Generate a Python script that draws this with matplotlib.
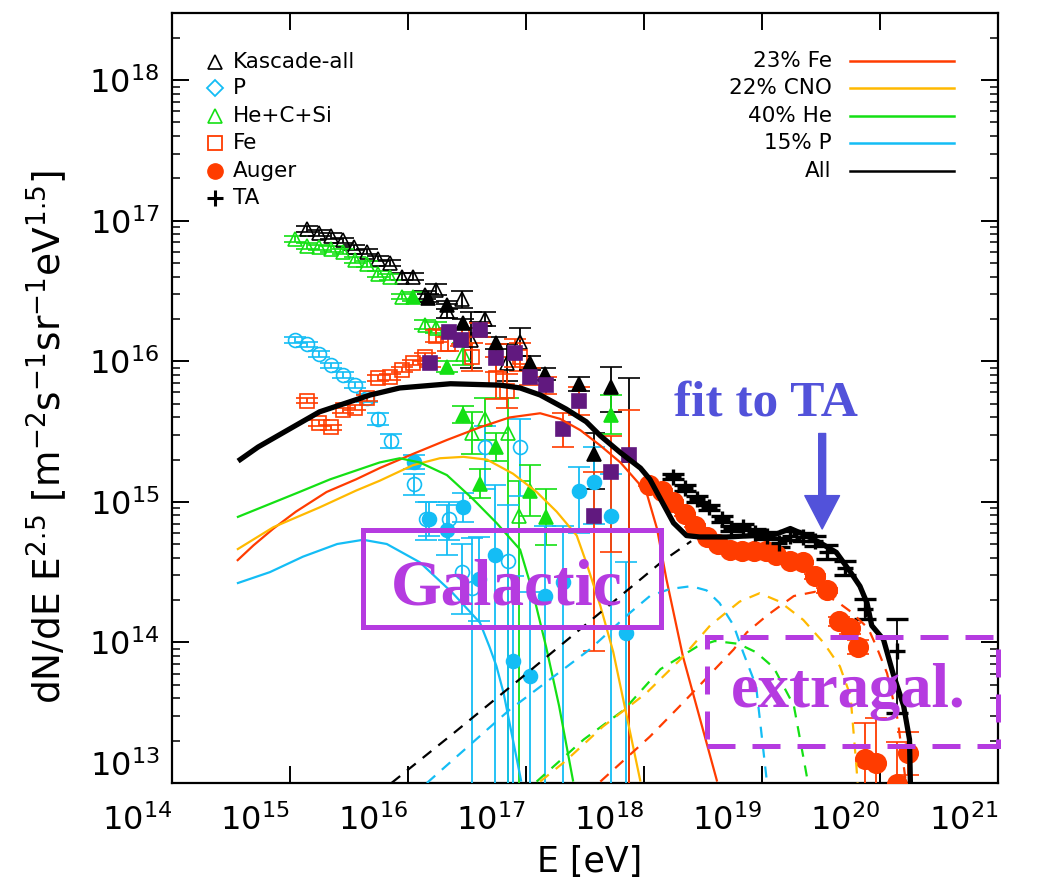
import numpy as np
import matplotlib
matplotlib.use("Agg")
import matplotlib.pyplot as plt
from matplotlib.patches import Rectangle, FancyArrowPatch
from matplotlib.ticker import NullLocator, LogLocator, FixedLocator

plt.rcParams['font.family'] = ['DejaVu Sans']
plt.rcParams['mathtext.fontset'] = 'dejavusans'

# ---------------- measured spectra: log10(E/eV), log10(flux), errors in dex ----------------
# KASCADE all-particle (open black triangles)
kas_all_lgE = [15.14, 15.25, 15.35, 15.45, 15.54, 15.65, 15.75, 15.85, 15.95, 16.04, 16.14, 16.24,
               16.33, 16.46, 16.53, 16.65, 16.84, 16.95]
kas_all_lgF = [16.94, 16.91, 16.89, 16.86, 16.81, 16.78, 16.73, 16.70, 16.60, 16.60, 16.47, 16.51,
               16.36, 16.44, 16.15, 16.30, 15.99, 16.14]
kas_all_err = [0.02, 0.02, 0.02, 0.02, 0.02, 0.02, 0.02, 0.02, 0.025, 0.025, 0.03, 0.04,
               0.05, 0.06, 0.20, 0.05, 0.13, 0.10]

# KASCADE-Grande all-particle (filled black triangles)
gr_all_lgE = [16.17, 16.33, 16.47, 16.61, 16.75, 17.03, 17.16, 17.45, 17.58, 17.72, 17.87]
gr_all_lgF = [16.45, 16.40, 16.27, 16.24, 16.13, 15.99, 15.91, 15.84, 15.34, 15.82, 15.33]
gr_all_lo = [0.03, 0.03, 0.03, 0.04, 0.04, 0.05, 0.04, 0.05, 0.25, 0.18, 3.0]
gr_all_hi = [0.03, 0.03, 0.03, 0.04, 0.04, 0.05, 0.04, 0.05, 0.15, 0.14, 0.55]

# KASCADE He+C+Si (open green triangles)
kas_med_lgE = [15.04, 15.14, 15.25, 15.35, 15.45, 15.55, 15.65, 15.75, 15.85, 15.95, 16.14, 16.24,
               16.47, 16.54, 16.65, 16.85, 16.94]
kas_med_lgF = [16.87, 16.82, 16.81, 16.80, 16.78, 16.72, 16.69, 16.62, 16.60, 16.46, 16.26, 16.24,
               16.05, 15.49, 15.59, 15.49, 14.90]
kas_med_lo = [0.02] * 10 + [0.03, 0.04, 0.08, 0.15, 0.15, 3.0, 3.0]
kas_med_hi = [0.02] * 10 + [0.03, 0.04, 0.08, 0.15, 0.15, 0.25, 0.25]

# KASCADE-Grande light/medium (filled green triangles)
gr_med_lgE = [16.04, 16.33, 16.47, 16.61, 16.75, 17.03, 17.17, 17.72]
gr_med_lgF = [16.46, 15.96, 15.62, 15.13, 15.39, 15.08, 14.89, 15.62]
gr_med_err = [0.03, 0.04, 0.06, 0.10, 0.10, 0.18, 0.20, 0.14]

# KASCADE protons (open blue circles)
kas_p_lgE = [15.04, 15.14, 15.25, 15.35, 15.45, 15.55, 15.65, 15.75, 15.86, 16.05, 16.15, 16.35,
             16.46, 16.54, 16.65, 16.85, 16.95]
kas_p_lgF = [16.15, 16.12, 16.05, 15.97, 15.90, 15.83, 15.74, 15.59, 15.43, 15.13, 14.88, 14.88,
             14.50, 14.39, 15.39, 14.58, 15.39]
kas_p_lo = [0.02] * 6 + [0.03, 0.04, 0.05, 0.08, 0.15, 0.15, 0.30, 3.0, 0.30, 3.0, 0.35]
kas_p_hi = [0.02] * 6 + [0.03, 0.04, 0.05, 0.07, 0.12, 0.12, 0.20, 0.35, 0.15, 0.40, 0.20]

# KASCADE-Grande light (filled blue circles)
gr_p_lgE = [16.05, 16.18, 16.33, 16.47, 16.60, 16.74, 16.89, 17.03, 17.16, 17.31, 17.45, 17.58,
            17.72, 17.85]
gr_p_lgF = [15.28, 14.88, 14.80, 14.96, 14.45, 14.62, 13.87, 13.76, 14.33, 14.43, 15.08, 15.14,
            14.90, 14.07]
gr_p_lo = [0.05, 0.12, 0.18, 0.10, 0.30, 3.0, 3.0, 3.0, 3.0, 3.0, 0.30, 0.30, 3.0, 3.0]
gr_p_hi = [0.05, 0.12, 0.18, 0.10, 0.30, 0.50, 0.60, 0.60, 0.50, 0.40, 0.17, 0.25, 0.30, 0.50]

# KASCADE iron (open red squares)
kas_fe_lgE = [15.14, 15.25, 15.35, 15.45, 15.55, 15.65, 15.75, 15.85, 15.95, 16.04, 16.14, 16.24,
              16.34, 16.46, 16.54, 16.75, 16.84, 16.95]
kas_fe_lgF = [15.72, 15.56, 15.53, 15.65, 15.67, 15.74, 15.88, 15.89, 15.94, 15.99, 16.03, 16.18,
              16.12, 16.18, 16.03, 15.88, 15.79, 16.03]
kas_fe_err = [0.02] * 10 + [0.03, 0.04, 0.05, 0.06, 0.10, 0.15, 0.12, 0.10]

# KASCADE-Grande heavy (filled purple squares)
gr_fe_lgE = [16.19, 16.35, 16.45, 16.61, 16.75, 16.91, 17.03, 17.17, 17.31, 17.45, 17.58, 17.72, 17.87]
gr_fe_lgF = [15.99, 16.21, 16.15, 16.22, 16.02, 16.06, 15.89, 15.83, 15.52, 15.72, 14.90, 15.21, 15.33]
gr_fe_lo = [0.03, 0.03, 0.04, 0.05, 0.10, 0.10, 0.06, 0.06, 0.13, 0.10, 0.96, 0.57, 3.0]
gr_fe_hi = [0.03, 0.03, 0.04, 0.05, 0.10, 0.10, 0.06, 0.06, 0.11, 0.10, 0.31, 0.26, 0.32]

# Pierre Auger Observatory
auger_lgE = [18.04, 18.15, 18.25, 18.35, 18.43, 18.53, 18.63, 18.73, 18.83, 18.93, 19.03, 19.12,
             19.24, 19.35, 19.45, 19.55, 19.65, 19.75, 19.81, 19.87, 19.97, 20.14, 20.24]
auger_lgF = [15.12, 15.08, 15.00, 14.91, 14.83, 14.75, 14.70, 14.66, 14.65, 14.65, 14.65, 14.62,
             14.58, 14.57, 14.47, 14.37, 14.15, 14.10, 13.97, 13.17, 13.14, 12.99, 13.21]
auger_lo = [0.01] * 14 + [0.02, 0.02, 0.03, 0.04, 0.05, 3.0, 3.0, 3.0, 0.15]
auger_hi = [0.01] * 14 + [0.02, 0.02, 0.03, 0.04, 0.05, 0.26, 0.32, 0.30, 0.15]

# Telescope Array
ta_lgE = [18.25, 18.35, 18.45, 18.55, 18.66, 18.74, 18.84, 18.94, 19.04, 19.14, 19.24, 19.35,
          19.45, 19.55, 19.70, 19.87, 20.14]
ta_lgF = [15.18, 15.10, 15.02, 14.96, 14.88, 14.81, 14.82, 14.78, 14.76, 14.71, 14.76, 14.75,
          14.72, 14.64, 14.53, 14.24, 13.94]
ta_lo = [0.02] * 7 + [0.025, 0.025, 0.03, 0.03, 0.03, 0.035, 0.05, 0.05, 0.07, 0.44]
ta_hi = [0.02] * 7 + [0.025, 0.025, 0.03, 0.03, 0.03, 0.035, 0.05, 0.05, 0.07, 0.23]

# ---------------- model: Galactic components (solid) ----------------
gal_fe_lgE = [14.55, 14.69, 14.86, 15.05, 15.31, 15.56, 15.76, 16.04, 16.33, 16.61, 16.86, 17.12,
              17.29, 17.46, 17.63, 17.80, 18.02, 18.11, 18.19, 18.33, 18.62]
gal_fe_lgF = [14.58, 14.69, 14.81, 14.93, 15.07, 15.16, 15.24, 15.34, 15.44, 15.53, 15.60, 15.63,
              15.59, 15.51, 15.40, 15.28, 15.07, 14.81, 14.45, 13.90, 13.01]
gal_cno_lgE = [14.55, 14.86, 15.25, 15.56, 15.76, 16.04, 16.27, 16.47, 16.67, 16.89, 17.09, 17.26,
               17.43, 17.51, 17.63, 17.74, 17.83, 17.97]
gal_cno_lgF = [14.66, 14.82, 14.96, 15.08, 15.15, 15.26, 15.31, 15.32, 15.30, 15.20, 15.07, 14.93,
               14.76, 14.57, 14.26, 13.93, 13.57, 13.01]
gal_he_lgE = [14.55, 15.08, 15.34, 15.76, 15.93, 16.10, 16.33, 16.55, 16.75, 16.95, 17.06, 17.17,
              17.28, 17.40]
gal_he_lgF = [14.89, 15.07, 15.16, 15.28, 15.31, 15.28, 15.19, 15.02, 14.85, 14.66, 14.35, 13.97,
              13.55, 13.01]
gal_p_lgE = [14.55, 14.83, 15.11, 15.40, 15.62, 15.82, 16.10, 16.38, 16.61, 16.69, 16.75, 16.81, 16.96]
gal_p_lgF = [14.42, 14.50, 14.61, 14.70, 14.73, 14.70, 14.57, 14.35, 14.14, 13.97, 13.83, 13.64, 13.01]

# total flux (Galactic + extragalactic)
all_lgE = [14.56, 14.73, 15.00, 15.25, 15.68, 15.93, 16.36, 16.78, 16.95, 17.12, 17.34, 17.51,
           17.63, 17.80, 17.97, 18.05, 18.14, 18.25, 18.36, 18.47, 18.70, 18.93, 19.12, 19.24,
           19.35, 19.49, 19.63, 19.75, 19.83, 19.89, 19.93, 20.03, 20.11, 20.20, 20.25, 20.26]
all_lgF = [15.29, 15.39, 15.52, 15.64, 15.76, 15.81, 15.84, 15.83, 15.81, 15.76, 15.66, 15.57,
           15.47, 15.35, 15.24, 15.16, 15.02, 14.85, 14.76, 14.75, 14.75, 14.76, 14.77, 14.81,
           14.77, 14.71, 14.64, 14.50, 14.40, 14.28, 14.12, 14.02, 13.78, 13.55, 13.31, 12.90]

# ---------------- model: extragalactic components (dashed) ----------------
eg_tot_lgE = [15.86, 16.38, 16.92, 18.16, 18.40]
eg_tot_lgF = [13.00, 13.35, 13.72, 14.58, 14.72]
eg_p_lgE = [16.16, 16.86, 17.54, 17.88, 18.05, 18.22, 18.40, 18.53, 18.64, 18.76, 18.84, 18.95, 19.04]
eg_p_lgF = [13.00, 13.52, 13.95, 14.21, 14.33, 14.38, 14.40, 14.37, 14.28, 14.12, 13.93, 13.69, 13.02]
eg_he_lgE = [17.09, 17.49, 17.83, 18.14, 18.45, 18.60, 18.80, 18.95, 19.10, 19.27, 19.36, 19.39]
eg_he_lgF = [13.01, 13.31, 13.52, 13.81, 13.97, 14.01, 13.99, 13.93, 13.82, 13.55, 13.14, 13.00]
eg_cno_lgE = [17.12, 17.34, 17.65, 18.02, 18.31, 18.56, 18.81, 18.98, 19.15, 19.35, 19.52, 19.66,
              19.75, 19.80, 19.81]
eg_cno_lgF = [13.01, 13.16, 13.40, 13.64, 13.88, 14.12, 14.29, 14.35, 14.29, 14.16, 14.00, 13.83,
              13.62, 13.12, 13.00]
eg_fe_lgE = [17.63, 18.05, 18.33, 18.76, 18.87, 19.04, 19.27, 19.45, 19.62, 19.75, 19.90, 19.97,
             20.06, 20.15, 20.22]
eg_fe_lgF = [13.01, 13.33, 13.57, 13.95, 14.07, 14.19, 14.33, 14.36, 14.30, 14.22, 14.10, 13.97,
             13.78, 13.45, 13.00]

legend_points = ['Kascade-all', 'P', 'He+C+Si', 'Fe', 'Auger', 'TA']
legend_lines = ['23% Fe', '22% CNO', '40% He', '15% P', 'All']

# annotation regions (log10 E, log10 flux)
gal_box = (15.62, 18.14, 14.107, 14.80)
eg_box = (18.53, 21.0, 13.26, 14.04)

C_RED = '#ff3c00'
C_ORANGE = '#ffb900'
C_GREEN = '#14e014'
C_BLUE = '#14bdf5'
C_PURPLE = '#61197f'
C_ANNOT = '#b53be0'
C_ARROW = '#5252da'

fig = plt.figure(figsize=(10.37, 8.89), dpi=100)
ax = fig.add_axes([0.16586, 0.11924, 0.79653, 0.86614])
ax.set_xscale('log')
ax.set_yscale('log')
ax.set_xlim(1e14, 1e21)
ax.set_ylim(1e13, 3e18)


def to_linear(lgE, lgF, lo, hi):
    E = 10.0 ** np.asarray(lgE, float)
    F = 10.0 ** np.asarray(lgF, float)
    lo = np.broadcast_to(np.asarray(lo, float), F.shape)
    hi = np.broadcast_to(np.asarray(hi, float), F.shape)
    return E, F, np.vstack([F * (1.0 - 10.0 ** (-lo)), F * (10.0 ** hi - 1.0)])


def points(lgE, lgF, lo, hi, marker, color, filled, ms, ecolor=None, mew=1.2, z=3):
    E, F, yerr = to_linear(lgE, lgF, lo, hi)
    ax.errorbar(E, F, yerr=yerr, fmt=marker, ms=ms, mfc=color if filled else 'none',
                mec=color, mew=mew, ecolor=ecolor or color, elinewidth=1.3,
                capsize=8, capthick=1.3, zorder=z)


points(kas_all_lgE, kas_all_lgF, kas_all_err, kas_all_err, '^', 'black', False, 10.5)
points(kas_med_lgE, kas_med_lgF, kas_med_lo, kas_med_hi, '^', C_GREEN, False, 10.5)
points(kas_p_lgE, kas_p_lgF, kas_p_lo, kas_p_hi, 'o', C_BLUE, False, 10)
points(kas_fe_lgE, kas_fe_lgF, kas_fe_err, kas_fe_err, 's', C_RED, False, 9.5)
points(gr_all_lgE, gr_all_lgF, gr_all_lo, gr_all_hi, '^', 'black', True, 10.5)
points(gr_med_lgE, gr_med_lgF, gr_med_err, gr_med_err, '^', C_GREEN, True, 10.5)
points(gr_p_lgE, gr_p_lgF, gr_p_lo, gr_p_hi, 'o', C_BLUE, True, 10)
points(gr_fe_lgE, gr_fe_lgF, gr_fe_lo, gr_fe_hi, 's', C_PURPLE, True, 10.5, ecolor=C_RED)
points(auger_lgE, auger_lgF, auger_lo, auger_hi, 'o', C_RED, True, 14)
points(ta_lgE, ta_lgF, ta_lo, ta_hi, '+', 'black', True, 12, mew=2.4)


def curve(lgE, lgF, color, lw=1.6, dashed=False, z=5):
    ln, = ax.plot(10.0 ** np.asarray(lgE), 10.0 ** np.asarray(lgF), color=color, lw=lw, zorder=z,
                  solid_capstyle='butt')
    if dashed:
        ln.set_dashes((5, 4))


curve(gal_fe_lgE, gal_fe_lgF, C_RED)
curve(gal_cno_lgE, gal_cno_lgF, C_ORANGE)
curve(gal_he_lgE, gal_he_lgF, C_GREEN)
curve(gal_p_lgE, gal_p_lgF, C_BLUE)
curve(eg_tot_lgE, eg_tot_lgF, 'black', dashed=True)
curve(eg_p_lgE, eg_p_lgF, C_BLUE, dashed=True)
curve(eg_he_lgE, eg_he_lgF, C_GREEN, dashed=True)
curve(eg_cno_lgE, eg_cno_lgF, C_ORANGE, dashed=True)
curve(eg_fe_lgE, eg_fe_lgF, C_RED, dashed=True)
curve(all_lgE, all_lgF, 'black', lw=3.8, z=6)

# Galactic / extragalactic labels
x0, x1, y0, y1 = gal_box
ax.add_patch(Rectangle((10 ** x0, 10 ** y0), 10 ** x1 - 10 ** x0, 10 ** y1 - 10 ** y0,
                       fill=False, ec=C_ANNOT, lw=3.6, zorder=8))
x0, x1, y0, y1 = eg_box
ax.add_patch(Rectangle((10 ** x0, 10 ** y0), 10 ** x1 - 10 ** x0, 10 ** y1 - 10 ** y0,
                       fill=False, ec=C_ANNOT, lw=3.6, ls=(0, (5.6, 3.4)), zorder=8,
                       clip_on=False))
ax.text(10 ** 16.84, 10 ** 14.271, 'Galactic', family='Liberation Serif', weight='bold',
        fontsize=47, color=C_ANNOT, ha='center', va='baseline', zorder=9)
ax.text(10 ** 19.73, 10 ** 13.54, 'extragal.', family='Liberation Serif', weight='bold',
        fontsize=45, color=C_ANNOT, ha='center', va='baseline', zorder=9)
ax.text(10 ** 19.03, 10 ** 15.614, 'fit to TA', family='Liberation Serif', weight='bold',
        fontsize=37, color=C_ARROW, ha='center', va='baseline', zorder=9)
ax.add_patch(FancyArrowPatch((10 ** 19.51, 10 ** 15.486), (10 ** 19.51, 10 ** 14.807),
                             arrowstyle='simple,head_length=24,head_width=25,tail_width=5',
                             mutation_scale=1, color=C_ARROW, shrinkA=0, shrinkB=0, zorder=9))

# point legend (upper left)
leg_y = [0.9368, 0.9022, 0.8662, 0.8307, 0.7948, 0.7593]
leg_style = [dict(marker='^', mfc='none', mec='black', ms=10, mew=1.2),
             dict(marker='D', mfc='none', mec=C_BLUE, ms=8, mew=1.3),
             dict(marker='^', mfc='none', mec=C_GREEN, ms=10, mew=1.2),
             dict(marker='s', mfc='none', mec=C_RED, ms=9.5, mew=1.3),
             dict(marker='o', mfc=C_RED, mec=C_RED, ms=11),
             dict(marker='+', mec='black', ms=11, mew=2.2)]
for lab, fy, st in zip(legend_points, leg_y, leg_style):
    ax.plot([0.052], [fy], ls='none', transform=ax.transAxes, clip_on=False, zorder=10, **st)
    ax.text(0.0738, fy, lab, transform=ax.transAxes, fontsize=15.5, ha='left', va='center', zorder=10)

# model legend (upper right)
line_y = [0.9381, 0.9022, 0.8662, 0.8308, 0.7952]
line_c = [C_RED, C_ORANGE, C_GREEN, C_BLUE, 'black']
for lab, fy, c in zip(legend_lines, line_y, line_c):
    ax.plot([0.8208, 0.9467], [fy, fy], color=c, lw=1.8, transform=ax.transAxes, zorder=10)
    ax.text(0.7987, fy, lab, transform=ax.transAxes, fontsize=15.5, ha='right', va='center', zorder=10)

# axes styling
ax.xaxis.set_major_locator(FixedLocator([10.0 ** k for k in range(14, 22)]))
ax.xaxis.set_minor_locator(NullLocator())
ax.yaxis.set_major_locator(FixedLocator([10.0 ** k for k in range(13, 19)]))
ax.yaxis.set_minor_locator(LogLocator(base=10, subs=np.arange(2, 10), numticks=20))
ax.tick_params(which='both', direction='in', top=True, right=True, labelsize=23)
ax.tick_params(which='major', length=12, width=1.4)
ax.tick_params(which='minor', length=6, width=1.1)
ax.tick_params(axis='x', pad=15)
ax.tick_params(axis='y', pad=9)
for sp in ax.spines.values():
    sp.set_linewidth(1.6)
for lab in ax.get_xticklabels():
    lab.set_horizontalalignment('right')
# lowest y label sits above its tick so it clears the x labels
ax.get_yticklabels()[0].set_verticalalignment('bottom')

ax.set_xlabel('E [eV]', fontsize=25, va='center')
ax.xaxis.set_label_coords(0.506, -0.103)
ax.set_ylabel(r'dN/dE E$^{2.5}$ [m$^{-2}$s$^{-1}$sr$^{-1}$eV$^{1.5}$]', fontsize=27, va='center')
ax.yaxis.set_label_coords(-0.152, 0.449)

fig.savefig('out.png', dpi=100)
